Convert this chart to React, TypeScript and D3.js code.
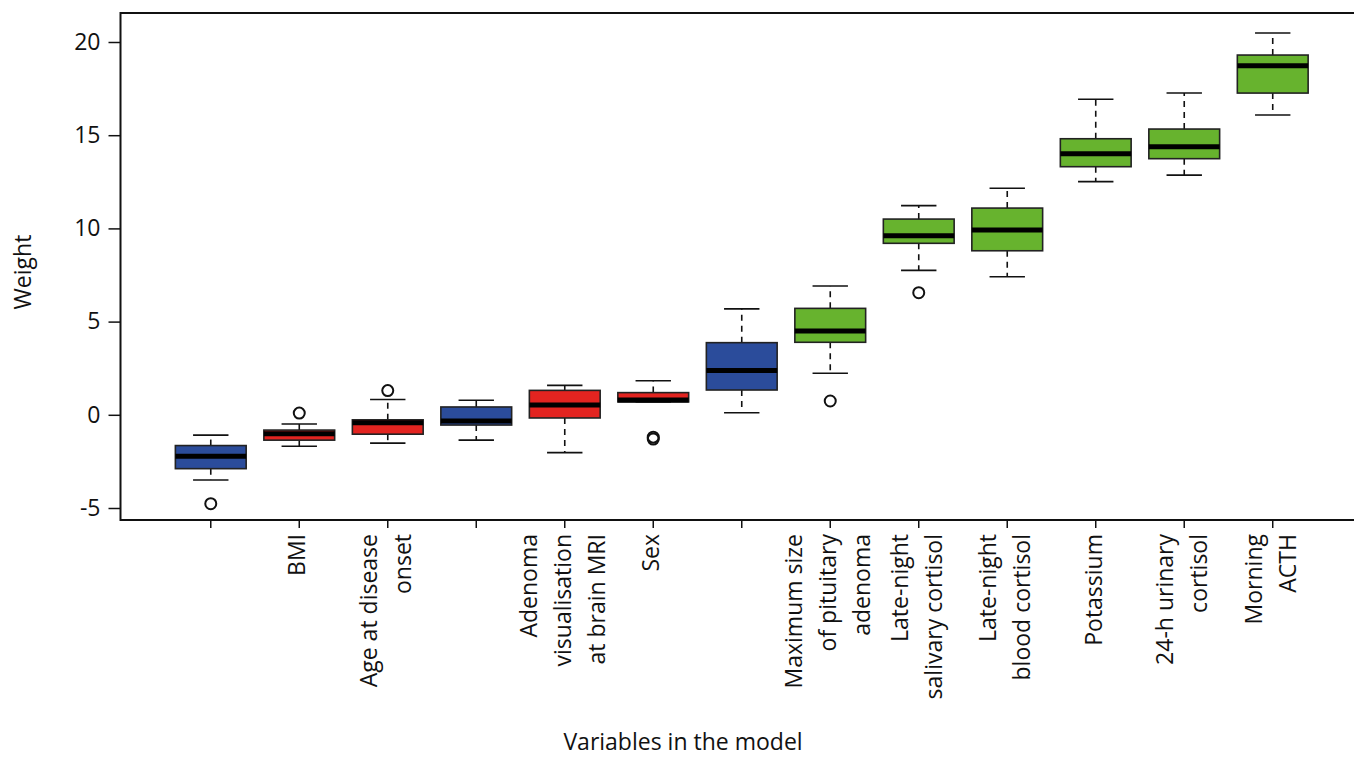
import React, { useEffect, useRef } from 'react';
import * as d3 from 'd3';

// one entry per variable, left to right
const labels: string[][] = [
  [],
  ['BMI'],
  ['Age at disease', 'onset'],
  [],
  ['Adenoma', 'visualisation', 'at brain MRI'],
  ['Sex'],
  [],
  ['Maximum size', 'of pituitary', 'adenoma'],
  ['Late-night', 'salivary cortisol'],
  ['Late-night', 'blood cortisol'],
  ['Potassium'],
  ['24-h urinary', 'cortisol'],
  ['Morning', 'ACTH'],
];
const groups = ['blue', 'red', 'red', 'blue', 'red', 'red', 'blue', 'green', 'green', 'green', 'green', 'green', 'green'];
const lowerWhisker = [-3.5, -1.69, -1.52, -1.36, -2.03, 0.69, 0.11, 2.23, 7.75, 7.41, 12.51, 12.86, 16.08];
const q1 = [-2.89, -1.36, -1.04, -0.55, -0.17, 0.69, 1.33, 3.89, 9.2, 8.8, 13.31, 13.74, 17.26];
const median = [-2.23, -1.02, -0.42, -0.33, 0.53, 0.79, 2.37, 4.5, 9.61, 9.91, 14.01, 14.38, 18.73];
const q3 = [-1.65, -0.82, -0.27, 0.42, 1.31, 1.19, 3.87, 5.71, 10.5, 11.09, 14.81, 15.33, 19.3];
const upperWhisker = [-1.09, -0.49, 0.82, 0.78, 1.58, 1.83, 5.68, 6.91, 11.22, 12.15, 16.93, 17.26, 20.48];
const outliers: number[][] = [[-4.77], [0.09], [1.3], [], [], [-1.2, -1.3], [], [0.74], [6.55], [], [], [], []];
const yTicks = [-5, 0, 5, 10, 15, 20];

const colors: Record<string, string> = { blue: '#2b4c9b', red: '#e32420', green: '#67b32e' };

const width = 1354;
const height = 760;
const font = "'Open Sans', sans-serif";
const fontSize = '23px';

const App: React.FC = () => {
  const svgRef = useRef<SVGSVGElement>(null);

  useEffect(() => {
    const svg = d3.select(svgRef.current);
    svg.selectAll('*').remove();

    const x = d3.scaleLinear().domain([-0.02, 14.02]).range([120.5, 1363]);
    const y = d3.scaleLinear().domain([-5, 20]).range([508, 42]);
    const boxW = (x(1) - x(0)) * 0.8;
    const capW = boxW / 2;
    const frameTop = 13;
    const frameBottom = 520;

    // frame
    svg.append('rect')
      .attr('x', x.range()[0]).attr('y', frameTop)
      .attr('width', x.range()[1] - x.range()[0]).attr('height', frameBottom - frameTop)
      .attr('fill', 'none').attr('stroke', '#111').attr('stroke-width', 2);

    // y axis
    const yAxis = svg.append('g')
      .attr('transform', `translate(${x.range()[0]},0)`)
      .call(d3.axisLeft(y).tickValues(yTicks).tickSize(12).tickPadding(8).tickFormat(d => String(d)));
    yAxis.select('.domain').remove();
    yAxis.selectAll('line').attr('stroke', '#111').attr('stroke-width', 1.5);
    yAxis.selectAll('text').style('font-family', font).style('font-size', fontSize).attr('fill', '#111');

    // x ticks
    const idx = d3.range(labels.length);
    svg.append('g').selectAll('line').data(idx).enter().append('line')
      .attr('x1', i => x(i + 1)).attr('x2', i => x(i + 1))
      .attr('y1', frameBottom).attr('y2', frameBottom + 8)
      .attr('stroke', '#111').attr('stroke-width', 1.5);

    // x labels, rotated, multi-line
    idx.forEach(i => {
      const lines = labels[i];
      lines.forEach((ln, j) => {
        const cx = x(i + 1) - 3 + (j - (lines.length - 1) / 2) * 34;
        svg.append('text')
          .attr('transform', `translate(${cx},534) rotate(-90)`)
          .attr('text-anchor', 'end')
          .attr('dominant-baseline', 'central')
          .style('font-family', font).style('font-size', fontSize).attr('fill', '#111')
          .text(ln);
      });
    });

    const g = svg.append('g');
    idx.forEach(i => {
      const cx = x(i + 1);
      // whiskers
      [[q3[i], upperWhisker[i]], [q1[i], lowerWhisker[i]]].forEach(([a, b]) => {
        if (a !== b) {
          g.append('line')
            .attr('x1', cx).attr('x2', cx).attr('y1', y(a)).attr('y2', y(b))
            .attr('stroke', '#111').attr('stroke-width', 1.6).attr('stroke-dasharray', '6,5');
        }
        g.append('line')
          .attr('x1', cx - capW / 2).attr('x2', cx + capW / 2).attr('y1', y(b)).attr('y2', y(b))
          .attr('stroke', '#111').attr('stroke-width', 1.6);
      });
      // box
      g.append('rect')
        .attr('x', cx - boxW / 2).attr('y', y(q3[i]))
        .attr('width', boxW).attr('height', y(q1[i]) - y(q3[i]))
        .attr('fill', colors[groups[i]]).attr('stroke', '#222').attr('stroke-width', 1.6);
      // median
      g.append('line')
        .attr('x1', cx - boxW / 2).attr('x2', cx + boxW / 2)
        .attr('y1', y(median[i])).attr('y2', y(median[i]))
        .attr('stroke', '#000').attr('stroke-width', 5);
      // outliers
      outliers[i].forEach(v => {
        g.append('circle')
          .attr('cx', cx).attr('cy', y(v)).attr('r', 5.5)
          .attr('fill', 'none').attr('stroke', '#111').attr('stroke-width', 2);
      });
    });

    // axis titles
    svg.append('text')
      .attr('transform', `translate(22,272) rotate(-90)`)
      .attr('text-anchor', 'middle').attr('dominant-baseline', 'central')
      .style('font-family', font).style('font-size', fontSize).attr('fill', '#111')
      .text('Weight');

    svg.append('text')
      .attr('x', 683).attr('y', 750)
      .attr('text-anchor', 'middle')
      .style('font-family', font).style('font-size', fontSize).attr('fill', '#111')
      .text('Variables in the model');
  }, []);

  return (
    <svg
      ref={svgRef}
      width={width}
      height={height}
      style={{ position: 'absolute', left: 0, top: 0, background: '#fff', display: 'block' }}
    />
  );
};

export default App;
